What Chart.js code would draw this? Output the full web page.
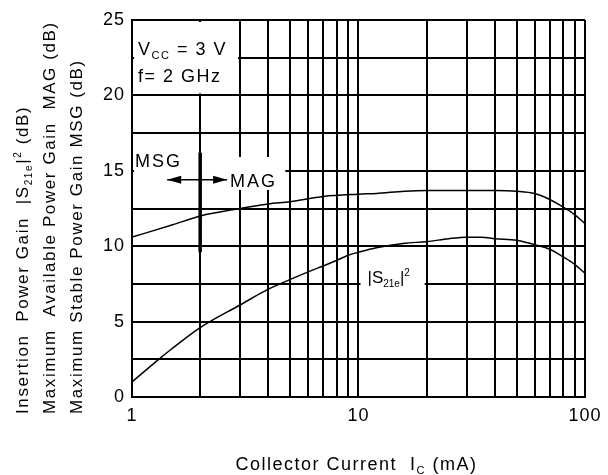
<!DOCTYPE html>
<html>
<head>
<meta charset="utf-8">
<script src="https://cdn.jsdelivr.net/npm/chart.js@4.4.1/dist/chart.umd.min.js"></script>
<style>
  html, body { margin:0; padding:0; background:#fff; }
  #wrap { width:608px; height:475px; }
</style>
</head>
<body>
<div id="wrap"><canvas id="gainChart" width="608" height="475"></canvas></div>
<script>
// MAG / MSG curve (dB) vs collector current (mA)
const magCurrent = [1, 1.5, 2, 3, 4, 5, 7, 10, 12, 16, 20, 30, 40, 50, 60, 70, 80, 90, 100];
const magGain    = [10.6, 11.4, 12.0, 12.5, 12.8, 12.95, 13.3, 13.45, 13.5, 13.65, 13.7, 13.7, 13.7, 13.65, 13.5, 13.1, 12.6, 12.1, 11.5];

// |S21e|^2 curve (dB)
const s21Current = [1, 1.3, 1.5, 2, 3, 4, 5, 6, 7, 8, 9, 10, 12, 16, 20, 25, 30, 35, 40, 50, 60, 70, 80, 90, 100];
const s21Gain    = [1.0, 2.45, 3.2, 4.6, 6.1, 7.15, 7.8, 8.3, 8.7, 9.05, 9.4, 9.6, 9.9, 10.2, 10.3, 10.5, 10.6, 10.6, 10.5, 10.4, 10.1, 9.8, 9.3, 8.8, 8.2];

// axes
const xTicks  = [1, 2, 3, 4, 5, 6, 7, 8, 9, 10, 20, 30, 40, 50, 60, 70, 80, 90, 100];
const xLabels = [1, 10, 100];
const yTicks  = [0, 2.5, 5, 7.5, 10, 12.5, 15, 17.5, 20, 22.5, 25];
const yLabels = [0, 5, 10, 15, 20, 25];

const FONT = '"Liberation Sans", Arial, Helvetica, sans-serif';

const yTitle = [
  [['Insertion  Power Gain  |S', ''], ['21e', 'sub'], ['|', ''], ['2', 'sup'], [' (dB)', '']],
  [['Maximum  Available Power Gain  MAG (dB)', '']],
  [['Maximum Stable Power Gain MSG (dB)', '']]
];
const xTitle = [['Collector Current  I', ''], ['C', 'sub'], [' (mA)', '']];

function setFont(ctx, kind, size){
  const s = kind ? Math.round(size * 0.6) : size;
  ctx.font = s + 'px ' + FONT;
}
function richWidth(ctx, parts, size){
  let w = 0;
  parts.forEach(p => { setFont(ctx, p[1], size); w += ctx.measureText(p[0]).width; });
  return w;
}
function drawRich(ctx, parts, x, y, size){
  parts.forEach(p => {
    setFont(ctx, p[1], size);
    const dy = p[1] === 'sub' ? size * 0.22 : p[1] === 'sup' ? -size * 0.4 : 0;
    ctx.fillText(p[0], x, y + dy);
    x += ctx.measureText(p[0]).width;
  });
}

function toPoints(xs, ys){ return xs.map((v, i) => ({ x: v, y: ys[i] })); }

const annotations = {
  id: 'annotations',
  beforeDraw(chart){ chart.ctx.letterSpacing = '1px'; },
  beforeDatasetsDraw(chart){
    const { ctx, scales: { x, y } } = chart;
    const mask = (x1, y1, x2, y2) => {
      const l = x.getPixelForValue(x1), r = x.getPixelForValue(x2);
      const t = y.getPixelForValue(y1), b = y.getPixelForValue(y2);
      ctx.fillRect(l + 2, t + 2, r - l - 4, b - t - 4);
    };
    ctx.save();
    ctx.fillStyle = '#fff';
    mask(1, 25, 3, 20);          // conditions box
    mask(1, 16.05, 4.85, 13.6);  // MSG / MAG labels
    mask(10, 8.8, 20, 6.2);      // |S21e|^2 label
    ctx.restore();
  },
  afterDatasetsDraw(chart){
    const { ctx, chartArea: a, scales: { x, y } } = chart;
    ctx.save();
    ctx.fillStyle = '#000';
    ctx.strokeStyle = '#000';
    ctx.textBaseline = 'alphabetic';
    ctx.textAlign = 'left';
    ctx.letterSpacing = '1.5px';

    drawRich(ctx, [['V', ''], ['CC', 'sub'], [' = 3 V', '']], a.left + 6, y.getPixelForValue(22.7), 18);
    drawRich(ctx, [['f= 2 GHz', '']], a.left + 6, y.getPixelForValue(20.9), 18);

    ctx.letterSpacing = '2px';
    drawRich(ctx, [['MSG', '']], a.left + 3, y.getPixelForValue(15.25), 18);
    drawRich(ctx, [['MAG', '']], x.getPixelForValue(2.63) + 3, y.getPixelForValue(13.95), 18);

    ctx.letterSpacing = '0px';
    drawRich(ctx, [['|S', ''], ['21e', 'sub'], ['|', ''], ['2', 'sup']], x.getPixelForValue(10) + 9, y.getPixelForValue(7.55), 17);

    // MSG / MAG boundary
    const bx = x.getPixelForValue(2);
    ctx.lineWidth = 3.5;
    ctx.beginPath();
    ctx.moveTo(bx, y.getPixelForValue(16.2));
    ctx.lineTo(bx, y.getPixelForValue(9.6));
    ctx.stroke();

    // arrows
    const ay = y.getPixelForValue(14.4);
    const lx = x.getPixelForValue(1.43), rx = x.getPixelForValue(2.63);
    ctx.lineWidth = 1.5;
    ctx.beginPath();
    ctx.moveTo(lx, ay); ctx.lineTo(rx, ay);
    ctx.stroke();
    ctx.beginPath();
    ctx.moveTo(lx, ay); ctx.lineTo(lx + 14, ay - 4); ctx.lineTo(lx + 14, ay + 4); ctx.closePath();
    ctx.moveTo(rx, ay); ctx.lineTo(rx - 14, ay - 4); ctx.lineTo(rx - 14, ay + 4); ctx.closePath();
    ctx.fill();
    ctx.restore();
  },
  afterDraw(chart){
    const { ctx, chartArea: a } = chart;
    ctx.save();
    ctx.fillStyle = '#000';
    ctx.textAlign = 'left';
    ctx.textBaseline = 'alphabetic';
    ctx.letterSpacing = '1.6px';
    const baseX = [28, 55, 82];
    yTitle.forEach((parts, i) => {
      ctx.save();
      ctx.translate(baseX[i], a.bottom + 17);
      ctx.rotate(-Math.PI / 2);
      drawRich(ctx, parts, 0, 0, 17);
      ctx.restore();
    });
    ctx.letterSpacing = '1.5px';
    const w = richWidth(ctx, xTitle, 18);
    drawRich(ctx, xTitle, (a.left + a.right) / 2 - w / 2 - 2, a.bottom + 73, 18);
    ctx.restore();
  }
};

new Chart(document.getElementById('gainChart'), {
  type: 'line',
  data: {
    datasets: [
      { label: 'MAG / MSG', data: toPoints(magCurrent, magGain), borderColor: '#000', borderWidth: 1.5, pointRadius: 0, cubicInterpolationMode: 'monotone', fill: false },
      { label: '|S21e|2', data: toPoints(s21Current, s21Gain), borderColor: '#000', borderWidth: 1.5, pointRadius: 0, cubicInterpolationMode: 'monotone', fill: false }
    ]
  },
  options: {
    responsive: false,
    animation: false,
    layout: { padding: { left: 0, right: 23, top: 20, bottom: 0 } },
    plugins: { legend: { display: false }, tooltip: { enabled: false } },
    scales: {
      x: {
        type: 'logarithmic', min: 1, max: 100,
        afterBuildTicks: s => { s.ticks = xTicks.map(v => ({ value: v })); },
        afterFit: s => { s.height = 78; },
        ticks: { autoSkip: false, maxRotation: 0, padding: 8, color: '#000', font: { family: FONT, size: 18 },
          callback: v => xLabels.includes(v) ? String(v) : '' },
        grid: { color: '#000', lineWidth: 2, drawTicks: false },
        border: { color: '#000', width: 2 }
      },
      y: {
        min: 0, max: 25,
        afterBuildTicks: s => { s.ticks = yTicks.map(v => ({ value: v })); },
        afterFit: s => { s.width = 132; },
        ticks: { padding: 7, color: '#000', font: { family: FONT, size: 18 },
          callback: v => yLabels.includes(v) ? String(v) : '' },
        grid: { color: '#000', lineWidth: 2, drawTicks: false },
        border: { color: '#000', width: 2 }
      }
    }
  },
  plugins: [annotations]
});
</script>
</body>
</html>
